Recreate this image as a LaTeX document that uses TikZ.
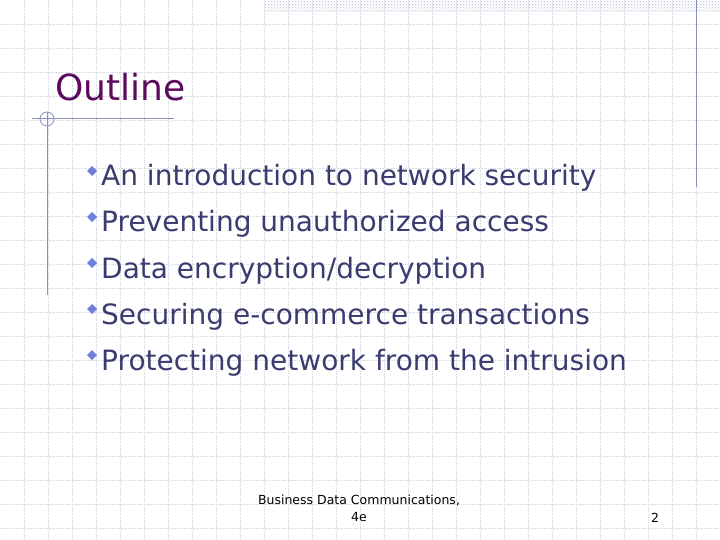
\documentclass[tikz,border=0pt]{standalone}
\usepackage{fontspec}
\setmainfont{DejaVu Sans}
\usetikzlibrary{patterns}
\definecolor{gridc}{HTML}{D4D8E0}
\definecolor{linec}{HTML}{8890C0}
\definecolor{titlec}{HTML}{5C0A5E}
\definecolor{bodyc}{HTML}{3A3C70}
\definecolor{bulc}{HTML}{6E80D8}
\tikzset{
  bul/.style={fill=bulc,draw=none,diamond,minimum size=0pt},
  item/.style={anchor=base west,text=bodyc,font=\fontsize{28}{30}\selectfont,inner sep=0pt},
  foot/.style={font=\fontsize{12.5}{17}\selectfont,text=black,inner sep=0pt,align=center}
}
\begin{document}
\begin{tikzpicture}[x=1pt,y=-1pt]
\useasboundingbox (0,0) rectangle (720,540);
\fill[white] (0,0) rectangle (720,540);
\foreach \i in {24,48,...,720} \draw[gridc,densely dotted,line width=0.8pt] (\i,0) -- (\i,540);
\foreach \i in {24,48,...,540} \draw[gridc,densely dotted,line width=0.8pt] (0,\i) -- (720,\i);
\fill[pattern=crosshatch dots,pattern color=linec!60] (265,0) rectangle (720,12);
\draw[linec,line width=1pt] (696,0) -- (696,187);
\draw[linec,line width=1pt] (32,119) -- (174,119);
\draw[linec,line width=1pt] (47,112) -- (47,295);
\draw[linec,line width=0.8pt] (47,119) circle (7);
\node[anchor=base west,text=titlec,font=\fontsize{36}{40}\selectfont,inner sep=0pt] (title) at (55,101) {Outline};
\foreach \t [count=\k] in {An introduction to network security,Preventing unauthorized access,Data encryption/decryption,Securing e-commerce transactions,Protecting network from the intrusion}{
  \fill[bulc] (92,{174+46*(\k-1)-8}) -- ++(5,5) -- ++(-5,5) -- ++(-5,-5) -- cycle;
  \node[item] (i\k) at (101,{186+46*(\k-1)}) {\t};
}
\node[foot] (f) at (359,508) {Business Data Communications,\\4e};
\node[foot,anchor=base] (p) at (655,522) {2};
\end{tikzpicture}
\end{document}
